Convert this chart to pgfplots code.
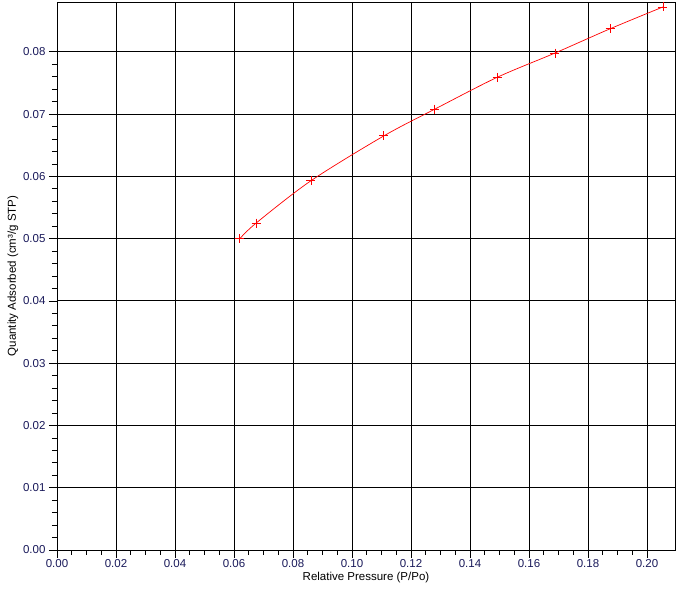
\documentclass[border=0pt]{standalone}
\usepackage{pgfplots}
\pgfplotsset{compat=1.18}
\usepackage{fontspec}
\setmainfont{Liberation Sans}
\definecolor{ticklab}{RGB}{25,25,90}
\begin{document}
\begin{tikzpicture}
\begin{axis}[
  name=ax,
  scale only axis,
  width=618pt, height=548pt,
  xmin=0, xmax=0.2095,
  ymin=0, ymax=0.0880,
  xtick={0,0.02,...,0.2001},
  ytick={0,0.01,...,0.0801},
  minor x tick num=3,
  minor y tick num=4,
  xtick pos=bottom, ytick pos=left,
  tick align=outside,
  major tick length=8pt,
  minor tick length=5pt,
  every tick/.style={black, line width=0.8pt},
  grid=major,
  major grid style={black, line width=0.9pt},
  axis line style={black, line width=0.9pt},
  /pgf/number format/assume math mode=true,
  /pgf/number format/fixed,
  /pgf/number format/fixed zerofill,
  /pgf/number format/precision=2,
  ticklabel style={font=\fontsize{11.5}{13}\selectfont, text=ticklab},
  xticklabel style={yshift=2pt},
  scaled ticks=false,
  xlabel={Relative Pressure (P/Po)},
  ylabel={Quantity Adsorbed (cm³/g STP)},
  label style={font=\fontsize{11.5}{13}\selectfont},
  xlabel style={yshift=2pt},
  ylabel style={yshift=-2pt},
  clip=false,
]
\addplot[red, line width=0.7pt, smooth, mark=+, mark size=4.5pt, mark options={line width=0.8pt}] coordinates {
(0.0620,0.0500)
(0.0675,0.0525)
(0.0861,0.0593)
(0.1108,0.0665)
(0.1281,0.0708)
(0.1492,0.0759)
(0.1688,0.0798)
(0.1875,0.0837)
(0.2054,0.0872)
};
\end{axis}
\path ([xshift=-57pt,yshift=-43pt]ax.south west) rectangle ([xshift=5pt,yshift=2pt]ax.north east);
\end{tikzpicture}
\end{document}
